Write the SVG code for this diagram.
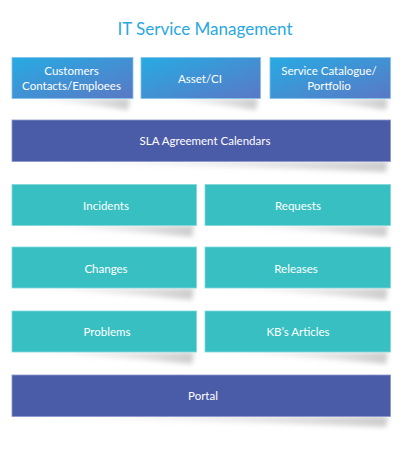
<svg xmlns="http://www.w3.org/2000/svg" width="402" height="451" viewBox="0 0 402 451">
<style>
.t{font-family:Lato,"Open Sans","Liberation Sans",sans-serif;fill:#fff;font-size:11.5px;text-anchor:middle}
.title{font-family:Lato,"Open Sans","Liberation Sans",sans-serif;fill:#2AA8E0;font-size:17px;text-anchor:middle}
.blue{fill:url(#gb);stroke:#7fc3ea;stroke-width:0.8}
.navy{fill:#4A5BA8;stroke:#8d96cc;stroke-width:0.8}
.teal{fill:#37BFC2;stroke:#7fd9da;stroke-width:0.8}
.sh{fill:url(#gs);filter:url(#bl)}
</style>
<defs>
<linearGradient id="gb" x1="0" y1="0" x2="1" y2="1">
<stop offset="0" stop-color="#27ABE3"/>
<stop offset="1" stop-color="#5A78C5"/>
</linearGradient>
<linearGradient id="gs" x1="0" y1="0" x2="1" y2="0">
<stop offset="0" stop-color="#c8c8c8" stop-opacity="0"/>
<stop offset="0.6" stop-color="#c8c8c8" stop-opacity="0.45"/>
<stop offset="1" stop-color="#b0b0b0" stop-opacity="0.65"/>
</linearGradient>
<filter id="bl" x="-10%" y="-50%" width="120%" height="200%"><feGaussianBlur stdDeviation="2.5"/></filter>
</defs>
<text class="title" x="205" y="34.5">IT Service Management</text>

<g id="shadows">
<path class="sh" d="M18 98 L130 98 L128 110 Q75 102 18 98 Z"/>
<path class="sh" d="M147 98 L258 98 L256 110 Q205 102 147 98 Z"/>
<path class="sh" d="M276 98 L388 98 L386 110 Q335 102 276 98 Z"/>
<path class="sh" d="M18 161 L388 161 L386 172 Q200 165 18 161 Z"/>
<path class="sh" d="M18 225 L194 225 L192 237 Q110 229 18 225 Z"/>
<path class="sh" d="M211 225 L388 225 L386 237 Q300 229 211 225 Z"/>
<path class="sh" d="M18 288 L194 288 L192 300 Q110 292 18 288 Z"/>
<path class="sh" d="M211 288 L388 288 L386 300 Q300 292 211 288 Z"/>
<path class="sh" d="M18 352 L194 352 L192 364 Q110 356 18 352 Z"/>
<path class="sh" d="M211 352 L388 352 L386 364 Q300 356 211 352 Z"/>
<path class="sh" d="M18 416 L388 416 L386 427 Q200 420 18 416 Z"/>
</g>

<g id="customers"><rect class="blue" x="12" y="57.5" width="121" height="41"/>
<text class="t" x="71.5" y="75">Customers</text><text class="t" x="71.5" y="89.5">Contacts/Emploees</text></g>
<g id="asset"><rect class="blue" x="141" y="57.5" width="119.5" height="41"/>
<text class="t" x="200" y="82.5">Asset/CI</text></g>
<g id="catalogue"><rect class="blue" x="270" y="57.5" width="120.5" height="41"/>
<text class="t" x="329" y="75">Service Catalogue/</text><text class="t" x="329" y="89.5">Portfolio</text></g>

<g id="sla"><rect class="navy" x="12" y="120" width="378.5" height="41.5"/>
<text class="t" x="205" y="145">SLA Agreement Calendars</text></g>

<g id="incidents"><rect class="teal" x="12" y="184.5" width="184.5" height="41"/>
<text class="t" x="106" y="209.5">Incidents</text></g>
<g id="requests"><rect class="teal" x="205" y="184.5" width="185.5" height="41"/>
<text class="t" x="298" y="209.5">Requests</text></g>

<g id="changes"><rect class="teal" x="12" y="247" width="184.5" height="41"/>
<text class="t" x="106" y="272.5">Changes</text></g>
<g id="releases"><rect class="teal" x="205" y="247" width="185.5" height="41"/>
<text class="t" x="296" y="272.5">Releases</text></g>

<g id="problems"><rect class="teal" x="12" y="311" width="184.5" height="41"/>
<text class="t" x="107" y="336">Problems</text></g>
<g id="kb"><rect class="teal" x="205" y="311" width="185.5" height="41"/>
<text class="t" x="298" y="336">KB’s Articles</text></g>

<g id="portal"><rect class="navy" x="12" y="375" width="378.5" height="41.5"/>
<text class="t" x="203" y="400">Portal</text></g>
<g id="connectors"/>
</svg>
